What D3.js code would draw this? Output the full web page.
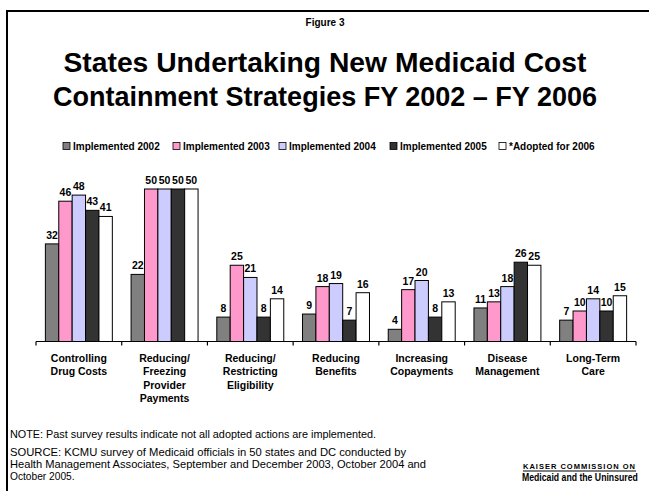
<!DOCTYPE html>
<html>
<head>
<meta charset="utf-8">
<script src="https://cdn.jsdelivr.net/npm/d3@7"></script>
<style>
  body { margin: 0; background: #fff; }
  svg { display: block; font-family: "Liberation Sans", Arial, sans-serif; }
</style>
</head>
<body>
<script>
const categories = [
  ["Controlling", "Drug Costs"],
  ["Reducing/", "Freezing", "Provider", "Payments"],
  ["Reducing/", "Restricting", "Eligibility"],
  ["Reducing", "Benefits"],
  ["Increasing", "Copayments"],
  ["Disease", "Management"],
  ["Long-Term", "Care"]
];
const seriesNames = ["Implemented 2002", "Implemented 2003", "Implemented 2004", "Implemented 2005", "*Adopted for 2006"];
const colors = ["#808080", "#ff99cc", "#ccccff", "#333333", "#ffffff"];
const v2002 = [32, 22, 8, 9, 4, 11, 7];
const v2003 = [46, 50, 25, 18, 17, 13, 10];
const v2004 = [48, 50, 21, 19, 20, 18, 14];
const v2005 = [43, 50, 8, 7, 8, 26, 10];
const v2006 = [41, 50, 14, 16, 13, 25, 15];
const series = [v2002, v2003, v2004, v2005, v2006];

const W = 649, H = 491;
const svg = d3.select("body").append("svg").attr("width", W).attr("height", H);

// frame
svg.append("path")
  .attr("d", `M7,${H + 2} V11 H${W + 2}`)
  .attr("fill", "none").attr("stroke", "#000").attr("stroke-width", 2);

const text = (x, y, str, size, opts = {}) => {
  const t = svg.append("text")
    .attr("x", x).attr("y", y)
    .attr("text-anchor", opts.anchor || "middle")
    .attr("font-size", size)
    .attr("font-weight", opts.weight || "bold")
    .text(str);
  if (opts.len) t.attr("textLength", opts.len).attr("lengthAdjust", opts.adjust || "spacingAndGlyphs");
  return t;
};

text(325, 26, "Figure 3", 10);
text(325, 72, "States Undertaking New Medicaid Cost", 27.5, { len: 523 });
text(325, 106, "Containment Strategies FY 2002 \u2013 FY 2006", 27.5, { len: 544 });

// legend
const legend = svg.append("g").attr("transform", "translate(0,146)");
const legendX = [63, 173, 279, 390, 499];
seriesNames.forEach((name, i) => {
  const g = legend.append("g").attr("transform", `translate(${legendX[i]},0)`);
  g.append("rect").attr("x", 0).attr("y", -3.5).attr("width", 7).attr("height", 7)
    .attr("fill", colors[i]).attr("stroke", "#000").attr("stroke-width", 0.8);
  g.append("text").attr("x", 10).attr("y", 3.5).attr("font-size", 10).attr("font-weight", "bold")
    .text(name);
});

// chart
const x0 = d3.scaleBand().domain(d3.range(categories.length)).range([36, 636]);
const x1 = d3.scaleBand().domain(d3.range(series.length)).range([0, x0.bandwidth()]).paddingOuter(0.7);
const y = d3.scaleLinear().domain([0, 50]).range([341.5, 189]);

const groups = svg.append("g").selectAll("g")
  .data(categories).join("g")
  .attr("transform", (d, i) => `translate(${x0(i)},0)`);

groups.each(function (cat, ci) {
  const g = d3.select(this);
  series.forEach((vals, si) => {
    g.append("rect")
      .attr("x", x1(si)).attr("width", x1.bandwidth())
      .attr("y", y(vals[ci])).attr("height", y(0) - y(vals[ci]))
      .attr("fill", colors[si]).attr("stroke", "#000").attr("stroke-width", 1);
    g.append("text")
      .attr("x", x1(si) + x1.bandwidth() / 2)
      .attr("y", y(vals[ci]) - 5)
      .attr("text-anchor", "middle")
      .attr("font-size", 10.5).attr("font-weight", "bold")
      .text(vals[ci]);
  });
  const t = g.append("text").attr("text-anchor", "middle")
    .attr("font-size", 10.5).attr("font-weight", "bold");
  cat.forEach((line, li) => {
    t.append("tspan").attr("x", x0.bandwidth() / 2).attr("y", 361.5 + li * 13.6).text(line);
  });
});

// axis
const axis = svg.append("g").attr("transform", `translate(0,${y(0)})`);
axis.append("line").attr("x1", 36).attr("x2", 636).attr("stroke", "#000").attr("stroke-width", 1.2);
axis.selectAll(".tick").data(d3.range(categories.length + 1)).join("line")
  .attr("x1", i => 36 + i * x0.bandwidth()).attr("x2", i => 36 + i * x0.bandwidth())
  .attr("y1", 0).attr("y2", 4).attr("stroke", "#000").attr("stroke-width", 1.2);

// notes
const note = { anchor: "start", weight: "normal" };
text(10, 438, "NOTE: Past survey results indicate not all adopted actions are implemented.", 10.2, { ...note, len: 366 });
text(10, 456, "SOURCE: KCMU survey of Medicaid officials in 50 states and DC conducted by", 10.2, { ...note, len: 396 });
text(10, 468, "Health Management Associates, September and December 2003, October 2004 and", 10.2, { ...note, len: 416 });
text(10, 480, "October 2005.", 10.2, note);

// logo
text(523, 469, "KAISER COMMISSION ON", 7.5, { anchor: "start", len: 112, adjust: "spacing" });
svg.append("line").attr("x1", 523).attr("x2", 636).attr("y1", 471).attr("y2", 471)
  .attr("stroke", "#000").attr("stroke-width", 1);
svg.append("text").attr("transform", "translate(522,481) scale(0.79,1)")
  .attr("font-size", 11).attr("font-weight", "bold").text("Medicaid and the Uninsured");
</script>
</body>
</html>
